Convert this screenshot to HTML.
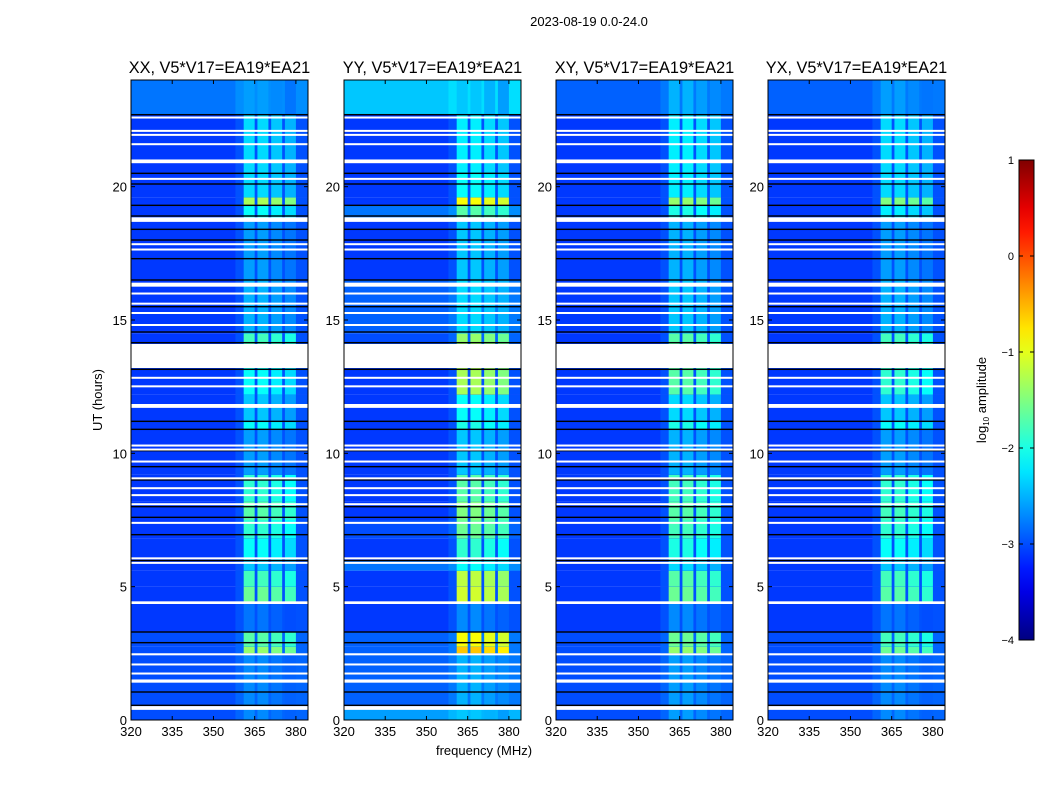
<!DOCTYPE html>
<html><head><meta charset="utf-8">
<style>
html,body{margin:0;padding:0;background:#fff;width:1050px;height:800px;overflow:hidden}
svg text{font-family:"Liberation Sans","DejaVu Sans",sans-serif;fill:#000}
</style></head>
<body>
<svg id="fig" width="1050" height="800" viewBox="0 0 1050 800" xmlns="http://www.w3.org/2000/svg">
<text x="589" y="26" font-size="13" text-anchor="middle">2023-08-19 0.0-24.0</text>
<text x="102" y="400" font-size="13" text-anchor="middle" transform="rotate(-90 102 400)">UT (hours)</text>
<text x="484" y="755" font-size="13" text-anchor="middle">frequency (MHz)</text>
<g id="panels"></g>
<g id="cbar"></g>
<text x="986" y="400" font-size="13" text-anchor="middle" transform="rotate(-90 986 400)">log<tspan font-size="8" dy="3">10</tspan><tspan dy="-3"> amplitude</tspan></text>
</svg>
<script>
// ---- data ----
const panelTitles = ["XX, V5*V17=EA19*EA21","YY, V5*V17=EA19*EA21","XY, V5*V17=EA19*EA21","YX, V5*V17=EA19*EA21"];
const xTicks = [320,335,350,365,380];
const yTicks = [0,5,10,15,20];
const cbarTicks = [1,0,-1,-2,-3,-4];
const cbarLabels = ["1","0","\u22121","\u22122","\u22123","\u22124"];
// frequency bands (MHz) where the signal lives
const bandStart = [361,366,371,376];
const bandEnd = [365,370,375,380];
const bandOffset = [0,0,0.1,0.2];
// time segments (hours)
const segStart = [0,0.5,2.5,2.75,3.3,4.4,5.0,5.6,6.0,6.8,7.5,8.2,9.2,10.9,11.2,12.2,14.1,14.5,16.5,18.8,19.3,19.6,20.5,22.7];
const segEnd   = [0.5,2.5,2.75,3.3,4.4,5.0,5.6,6.0,6.8,7.5,8.2,9.2,10.9,11.2,12.2,13.2,14.5,16.5,18.8,19.3,19.6,20.5,22.7,24];
// background log amplitude per segment, per panel
const bgXX = [-3.0,-3.0,-3.0,-3.0,-3.1,-3.1,-3.1,-3.1,-3.1,-3.1,-3.1,-3.1,-3.1,-3.1,-3.1,-3.1,-3.1,-3.1,-3.1,-3.1,-3.1,-3.1,-3.1,-2.8];
const bgYY = [-2.6,-2.9,-2.9,-2.9,-3.1,-3.1,-3.1,-2.8,-3.1,-3.0,-3.1,-3.1,-3.1,-3.1,-3.1,-3.1,-3.0,-2.9,-3.1,-2.8,-3.1,-3.1,-3.1,-2.4];
const bgXY = [-3.0,-3.0,-3.0,-3.0,-3.1,-3.1,-3.1,-3.1,-3.1,-3.1,-3.1,-3.1,-3.1,-3.1,-3.1,-3.1,-3.1,-3.1,-3.1,-3.1,-3.1,-3.1,-3.1,-2.9];
const bgYX = [-3.0,-3.0,-3.0,-3.0,-3.1,-3.1,-3.1,-3.1,-3.1,-3.1,-3.1,-3.1,-3.1,-3.1,-3.1,-3.1,-3.1,-3.1,-3.1,-3.1,-3.1,-3.1,-3.1,-2.9];
// band log amplitude per segment, per panel
const bandXX = [-2.7,-2.7,-1.4,-1.7,-2.8,-1.6,-1.8,-2.4,-2.1,-1.9,-1.7,-1.9,-2.6,-2.1,-2.4,-2.1,-1.8,-2.5,-2.6,-2.1,-1.3,-2.3,-2.3,-2.6];
const bandYY = [-2.4,-2.5,-0.6,-0.9,-2.7,-1.1,-1.2,-2.1,-1.9,-1.6,-1.5,-1.7,-2.4,-2.0,-2.1,-1.3,-1.4,-2.3,-2.4,-1.7,-0.9,-2.1,-2.2,-2.4];
const bandXY = [-2.6,-2.6,-1.4,-1.6,-2.7,-1.6,-1.7,-2.3,-2.0,-1.8,-1.7,-1.8,-2.5,-2.0,-2.3,-1.7,-1.7,-2.4,-2.5,-2.0,-1.4,-2.2,-2.2,-2.5];
const bandYX = [-2.7,-2.7,-1.6,-1.8,-2.8,-1.7,-1.8,-2.4,-2.1,-1.9,-1.8,-1.9,-2.6,-2.1,-2.4,-1.9,-1.8,-2.5,-2.6,-2.2,-1.5,-2.3,-2.3,-2.6];
const bgSeries = [bgXX,bgYY,bgXY,bgYX];
const bandSeries = [bandXX,bandYY,bandXY,bandYX];
// flagged (white) time ranges, hours
const gapStart = [0.38,1.4,1.73,2.08,2.43,4.35,5.88,6.05,7.38,8.08,8.42,8.68,9.05,9.68,10.13,10.28,11.73,11.8,12.5,12.82,13.2,14.8,15.3,15.6,15.98,16.25,17.62,17.82,18.68,20.28,20.88,21.58,21.93,22.08,22.58];
const gapEnd   = [0.52,1.52,1.78,2.12,2.5,4.45,5.93,6.1,7.43,8.13,8.47,8.73,9.1,9.73,10.18,10.33,11.78,11.85,12.55,12.87,14.1,14.85,15.3,15.65,16.03,16.4,17.68,17.88,18.85,20.33,21.02,21.63,21.98,22.13,22.63];
// dark (flagged edge) lines, hours
const darkLines = [0.55,1.05,3.3,2.9,5.98,6.95,7.6,8.0,9.0,9.5,10.1,10.9,11.2,13.15,14.15,14.55,15.5,16.5,17.3,18.0,18.4,18.9,19.3,20.1,20.5,22.7];
const vmin=-4, vmax=1;
// ---- rendering ----
const NS="http://www.w3.org/2000/svg";
function mk(tag,attrs,parent){const e=document.createElementNS(NS,tag);for(const k in attrs)e.setAttribute(k,attrs[k]);parent.appendChild(e);return e;}
function jet(v){let t=(v-vmin)/(vmax-vmin);t=Math.max(0,Math.min(1,t));
 const c=x=>Math.round(255*Math.max(0,Math.min(1,x)));
 return `rgb(${c(1.5-Math.abs(4*t-3))},${c(1.5-Math.abs(4*t-2))},${c(1.5-Math.abs(4*t-1))})`;}
const panelLeft=[131,344,556,768], PW=177, PT=80, PB=720;
const fmin=320,fmax=384.4,tmin=0,tmax=24;
const panels=document.getElementById('panels');
panelLeft.forEach((L,p)=>{
 const xs=f=>L+(f-fmin)/(fmax-fmin)*PW;
 const ys=t=>PB-(t-tmin)/(tmax-tmin)*(PB-PT);
 const g=mk('g',{},panels);
 
 
 mk('rect',{x:L,y:PT,width:PW,height:PB-PT,fill:'#fff'},g);
 segStart.forEach((s,i)=>{
  const y0=ys(segEnd[i]),y1=ys(s),bg=bgSeries[p][i];
  const r=mk('rect',{x:xs(fmin),y:y0,width:xs(fmax)-xs(fmin),height:y1-y0,fill:jet(bg)},g);
  
  
  const r2=mk('rect',{x:xs(358),y:y0,width:xs(fmax)-xs(358),height:y1-y0,fill:jet(bg+0.12)},g);
  
  
  bandStart.forEach((b,j)=>{
   const c=mk('rect',{x:xs(b),y:y0,width:xs(bandEnd[j])-xs(b),height:y1-y0,fill:jet(bandSeries[p][i]-bandOffset[j])},g);
   
   
  });
 });
 darkLines.forEach(t=>{
  const d=mk('rect',{x:L,y:ys(t)-0.7,width:PW,height:1.4,fill:'#000'},g);
  
  
 });
 gapStart.forEach((s,i)=>{
  const y0=ys(gapEnd[i]);const h=Math.max(2,ys(s)-y0);
  const w=mk('rect',{x:L,y:y0,width:PW,height:h,fill:'#fff'},g);
  
  
 });
 mk('rect',{x:L,y:PT,width:PW,height:PB-PT,fill:'none',stroke:'#000','stroke-width':1},g);
 const tt=mk('text',{x:L+PW/2,y:73,'font-size':16.3,'text-anchor':'middle'},g);
 tt.textContent=panelTitles[p];
 
 
 xTicks.forEach(v=>{const x=xs(v);
  mk('line',{x1:x,x2:x,y1:PB,y2:PB-4,stroke:'#000'},g);
  mk('line',{x1:x,x2:x,y1:PT,y2:PT+4,stroke:'#000'},g);
  const t=mk('text',{x:x,y:736,'font-size':13,'text-anchor':'middle'},g);t.textContent=v;
  
  
 });
 yTicks.forEach(v=>{const y=ys(v);
  mk('line',{x1:L,x2:L+4,y1:y,y2:y,stroke:'#000'},g);
  mk('line',{x1:L+PW,x2:L+PW-4,y1:y,y2:y,stroke:'#000'},g);
  const t=mk('text',{x:L-4,y:y+5,'font-size':13,'text-anchor':'end'},g);t.textContent=v;
  
  
 });
});
// colorbar
const cb=document.getElementById('cbar');
const CX=1019,CW=15,CT=160,CB=640;
const cy=v=>CB-(v-vmin)/(vmax-vmin)*(CB-CT);
const grad=mk('linearGradient',{id:'jetg',x1:0,y1:1,x2:0,y2:0},mk('defs',{},cb));
for(let i=0;i<=20;i++){mk('stop',{offset:i/20,'stop-color':jet(vmin+(vmax-vmin)*i/20)},grad);}
mk('rect',{x:CX,y:CT,width:CW,height:CB-CT,fill:'url(#jetg)',stroke:'#000','stroke-width':1},cb);
cbarTicks.forEach((v,i)=>{const y=cy(v);
 mk('line',{x1:CX,x2:CX+4,y1:y,y2:y,stroke:'#000'},cb);
 mk('line',{x1:CX+CW,x2:CX+CW-4,y1:y,y2:y,stroke:'#000'},cb);
 const t=mk('text',{x:CX-5,y:y+4,'font-size':11,'text-anchor':'end'},cb);t.textContent=cbarLabels[i];
 
 
});
</script>
</body></html>
